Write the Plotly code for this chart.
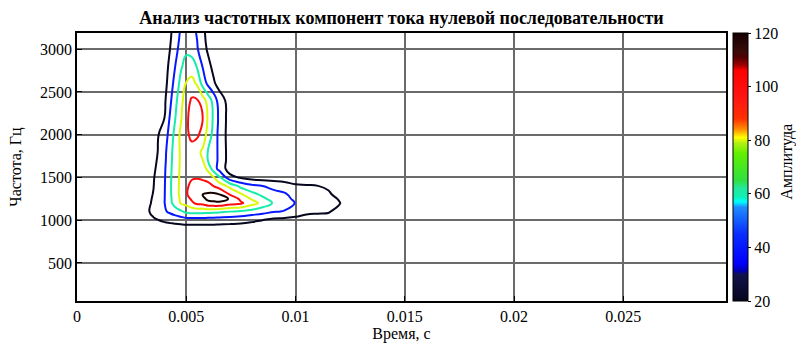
import plotly.graph_objects as go

# ---- data ----
time_ms = [2.5, 3.0, 3.5, 4.0, 4.25, 4.5, 4.75, 5.0, 5.25, 5.5, 5.75, 6.0, 6.25, 6.5,
           7.0, 7.5, 8.0, 8.5, 9.0, 9.5, 10.0, 10.5, 11.0, 11.5, 12.0, 12.5, 13.0]
freq_hz = [800, 900, 1000, 1100, 1200, 1250, 1300, 1400, 1500, 1600, 1700, 1800,
           2000, 2200, 2400, 2600, 2800, 3000, 3200, 3300]

F = 20  # background amplitude outside the component
amp_800 = [F] * 27
amp_900 = [F] * 27
amp_1000 = [20, 20, 25.8, 30.1, 31.9, 33.7, 35.5, 37.2, 37.3, 37.4, 37.3, 36.7, 36.6, 35.8,
            34.4, 33.0, 30.3, 27.9, 23.4, 22.2, 21.4, 21.0, 20, 20, 20, 20, 20]
amp_1100 = [20, 21.3, 31.9, 42.5, 48.0, 53.6, 59.1, 65.6, 67.4, 67.7, 67.2, 66.7, 65.9, 64.8,
            61.6, 59.5, 54.6, 50.3, 46.0, 43.9, 37.9, 31.5, 30.4, 29.5, 22, 20, 20]
amp_1200 = [20, 20, 30.5, 44.3, 56.9, 69.7, 80.0, 84.1, 92.4, 99.9, 101.3, 108.4, 110.2, 110.5,
            102.8, 98.7, 86.2, 73.2, 60.1, 51.6, 44.4, 38.0, 35.5, 32.0, 28.8, 24, 20]
amp_1250 = [20, 20, 29.6, 44.2, 57.7, 71.5, 81.2, 89.0, 98.5, 106.0, 108.9, 116.5, 116.7, 117.9,
            112.0, 91.3, 77.3, 65.5, 56.0, 51.0, 41.0, 39.5, 36.5, 32.5, 27.0, 22, 20]
amp_1300 = [20, 20, 28.7, 44.0, 58.4, 73.2, 82.2, 94.0, 103.3, 110.8, 113.0, 115.4, 116.9, 114.1,
            95.2, 81.5, 68.1, 58.4, 51.5, 47.8, 37.2, 35.5, 33.4, 30.0, 24, 20, 20]
amp_1400 = [20, 20, 27.6, 43.6, 58.7, 73.9, 81.8, 92.5, 100.9, 102.5, 101.8, 102.4, 95.7, 89.1,
            74.1, 57.1, 49.2, 45.0, 39.6, 35.1, 30.1, 29.1, 28.3, 26.0, 20, 20, 20]
amp_1500 = [20, 20, 26.8, 43.1, 58.0, 73.5, 81.4, 90.0, 94.0, 94.8, 93.4, 88.3, 80.2, 65.7,
            33.3, 26.2, 21.4, 20, 20, 20, 20, 20, 20, 20, 20, 20, 20]
amp_1600 = [20, 20, 24.8, 42.4, 57.1, 72.7, 81.0, 88.0, 91.0, 91.5, 87.0, 75.0, 54.0, 40.0,
            20, 20, 20, 20, 20, 20, 20, 20, 20, 20, 20, 20, 20]
amp_1700 = [20, 20, 22.6, 41.1, 55.9, 72.1, 80.8, 83.9, 85.0, 82.1, 79.5, 60.9, 52.1, 42.1,
            20, 20, 20, 20, 20, 20, 20, 20, 20, 20, 20, 20, 20]
amp_1800 = [20, 20, 20.3, 40.3, 54.9, 71.2, 81.0, 85.4, 89.8, 84.1, 76.0, 60.6, 52.0, 42.1,
            20, 20, 20, 20, 20, 20, 20, 20, 20, 20, 20, 20, 20]
amp_2000 = [20, 20, 20, 37.0, 50.4, 68.3, 82.3, 92.4, 100.0, 98.9, 89.6, 72.4, 56.2, 40.4,
            20, 20, 20, 20, 20, 20, 20, 20, 20, 20, 20, 20, 20]
amp_2200 = [20, 20, 20, 27.7, 46.1, 61.7, 77.0, 93.1, 101.3, 102.6, 96.7, 76.2, 59.1, 41.9,
            20, 20, 20, 20, 20, 20, 20, 20, 20, 20, 20, 20, 20]
amp_2400 = [20, 20, 20, 24.7, 41.1, 57.3, 73.7, 88.2, 98.3, 97.6, 87.0, 72.4, 55.5, 38.2,
            20, 20, 20, 20, 20, 20, 20, 20, 20, 20, 20, 20, 20]
amp_2600 = [20, 20, 20, 21.4, 36.0, 51.4, 66.9, 80.0, 85.0, 76.4, 55.8, 40.6, 31.0, 21.3,
            20, 20, 20, 20, 20, 20, 20, 20, 20, 20, 20, 20, 20]
amp_2800 = [20, 20, 20, 20, 31.9, 45.3, 59.6, 68.5, 69.5, 60.5, 44.2, 33.5, 22.9, 20,
            20, 20, 20, 20, 20, 20, 20, 20, 20, 20, 20, 20, 20]
amp_3000 = [20, 20, 20, 20, 27.8, 40.6, 50.3, 58.5, 55.6, 46.4, 35.8, 25.1, 20, 20,
            20, 20, 20, 20, 20, 20, 20, 20, 20, 20, 20, 20, 20]
amp_3200 = [20, 20, 20, 20, 24.4, 36.9, 47.0, 53.1, 50.5, 43.6, 32.6, 21.6, 20, 20,
            20, 20, 20, 20, 20, 20, 20, 20, 20, 20, 20, 20, 20]
amp_3300 = [20, 20, 20, 20, 24.4, 36.9, 47.0, 53.1, 50.5, 43.6, 32.6, 21.6, 20, 20,
            20, 20, 20, 20, 20, 20, 20, 20, 20, 20, 20, 20, 20]

amplitude = [amp_800, amp_900, amp_1000, amp_1100, amp_1200, amp_1250, amp_1300, amp_1400,
             amp_1500, amp_1600, amp_1700, amp_1800, amp_2000, amp_2200, amp_2400, amp_2600,
             amp_2800, amp_3000, amp_3200, amp_3300]

x_ticks = [0, 0.005, 0.01, 0.015, 0.02, 0.025]
x_tick_text = ["0", "0.005", "0.01", "0.015", "0.02", "0.025"]
y_ticks = [500, 1000, 1500, 2000, 2500, 3000]
cbar_ticks = [20, 40, 60, 80, 100, 120]

title_text = "Анализ частотных компонент тока нулевой последовательности"
x_title = "Время, с"
y_title = "Частота, Гц"
cbar_title = "Амплитуда"

# ---- style ----
colorscale = [
    [0.00, "#06061f"], [0.10, "#12124e"], [0.11, "#0000a8"], [0.14, "#0000ff"],
    [0.25, "#0a2cff"], [0.35, "#1e8cff"], [0.37, "#00ffff"], [0.39, "#10f0b0"],
    [0.42, "#22e8a0"], [0.45, "#30e040"], [0.55, "#60f000"], [0.59, "#b4f014"],
    [0.61, "#ffff00"], [0.64, "#ff9000"], [0.68, "#ff3000"], [0.76, "#ff1414"],
    [0.86, "#ff0000"], [0.88, "#a00000"], [0.91, "#500000"], [0.93, "#3c0a0a"],
    [1.00, "#140000"],
]
FONT = "Liberation Serif"

fig = go.Figure()
fig.add_trace(go.Contour(
    x=[t / 1000 for t in time_ms], y=freq_hz, z=amplitude,
    zmin=20, zmax=120, zauto=False, colorscale=colorscale,
    contours=dict(coloring="lines", start=28, end=113, size=17),
    line=dict(width=2, smoothing=1.3),
    showscale=False, hoverinfo="skip",
))
fig.add_trace(go.Scatter(
    x=[None, None], y=[None, None], mode="markers",
    marker=dict(color=[20, 120], cmin=20, cmax=120, colorscale=colorscale, size=0.1,
                showscale=True,
                colorbar=dict(x=1.011, xanchor="left", y=0.5, yanchor="middle",
                              len=1.0, lenmode="fraction", thickness=15,
                              outlinewidth=1, outlinecolor="black",
                              tickvals=cbar_ticks, ticks="outside", ticklen=3,
                              tickcolor="black", tickfont=dict(family=FONT, size=16, color="black"),
                              xpad=0, ypad=0)),
    showlegend=False, hoverinfo="skip",
))

axis_common = dict(showgrid=True, gridcolor="#6a6a6a", gridwidth=1.5,
                   showline=True, linecolor="black", linewidth=1.5, mirror=True,
                   ticks="inside", ticklen=5, tickcolor="black", zeroline=False,
                   automargin=False,
                   tickfont=dict(family=FONT, size=16, color="black"))

fig.update_layout(
    width=796, height=345, autosize=False,
    margin=dict(l=77, r=70, t=33, b=44, autoexpand=False),
    paper_bgcolor="white", plot_bgcolor="white", showlegend=False,
    title=dict(text="<b>" + title_text + "</b>", x=0.5, xref="paper", xanchor="center",
               y=1, yref="container", yanchor="top", pad=dict(t=11),
               font=dict(family=FONT, size=18, color="black")),
    xaxis=dict(range=[0, 0.0297], tickvals=x_ticks, ticktext=x_tick_text,
               title=dict(text=x_title, font=dict(family=FONT, size=16, color="black"), standoff=4),
               **axis_common),
    yaxis=dict(range=[55, 3190], tickvals=y_ticks,
               title=dict(text=y_title, font=dict(family=FONT, size=16, color="black"), standoff=14),
               **axis_common),
    annotations=[dict(text=cbar_title, textangle=-90, xref="paper", yref="paper",
                      x=1.094, y=0.52, xanchor="center", yanchor="middle", showarrow=False,
                      font=dict(family=FONT, size=16, color="black"))],
)

fig.write_html("out.html", config={"displayModeBar": False},
               post_script="document.body.style.margin='0px';")
